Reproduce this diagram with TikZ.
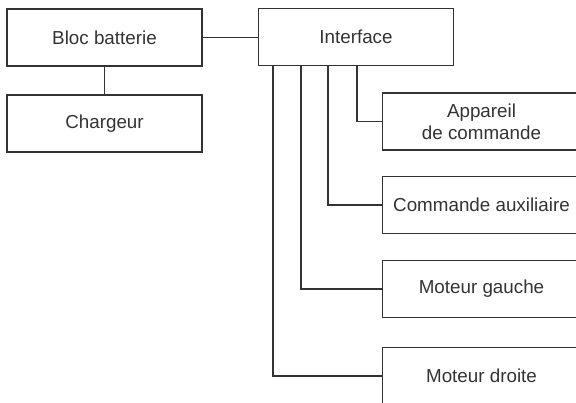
\documentclass[tikz,border=0pt]{standalone}
\usepackage{fontspec}
\setmainfont{Liberation Sans}
\usetikzlibrary{positioning,calc}

\definecolor{linegray}{HTML}{333333}

\tikzset{
    bloc/.style={draw=linegray,line width=0.7pt,minimum width=97.5pt,minimum height=28.5pt,
        text=linegray,align=center,inner sep=0pt,font=\fontsize{9.4}{11}\selectfont},
    lien/.style={draw=linegray,line width=0.7pt}
}

\begin{document}
\begin{tikzpicture}[x=0.5pt,y=-0.5pt]
    \useasboundingbox (0,0) rectangle (576,402);
    \clip (0,0) rectangle (576,402);

    % battery side
    \node[bloc] (bat) at (104.5,37.5) {Bloc batterie};
    \node[bloc] (chg) at (104.5,123.5) {Chargeur};

    % interface
    \node[bloc] (itf) at (356,37) {Interface};

    % units on the right (cut by the page edge)
    \node[bloc,minimum width=99pt] (app) at (481.5,121.5) {Appareil\\de commande};
    \node[bloc,minimum width=99pt] (aux) at (481.5,205) {Commande auxiliaire};
    \node[bloc,minimum width=99pt] (mg) at (481.5,289) {Moteur gauche};
    \node[bloc,minimum width=99pt] (md) at (481.5,376) {Moteur droite};

    % links
    \draw[lien] (bat) -- (chg);
    \draw[lien] (bat.east) -- (bat.east -| itf.west);
    \draw[lien] ($(itf.south west)+(99,0)$) |- (app.west);
    \draw[lien] ($(itf.south west)+(70,0)$) |- (aux.west);
    \draw[lien] ($(itf.south west)+(43,0)$) |- (mg.west);
    \draw[lien] ($(itf.south west)+(15,0)$) |- (md.west);
\end{tikzpicture}
\end{document}
